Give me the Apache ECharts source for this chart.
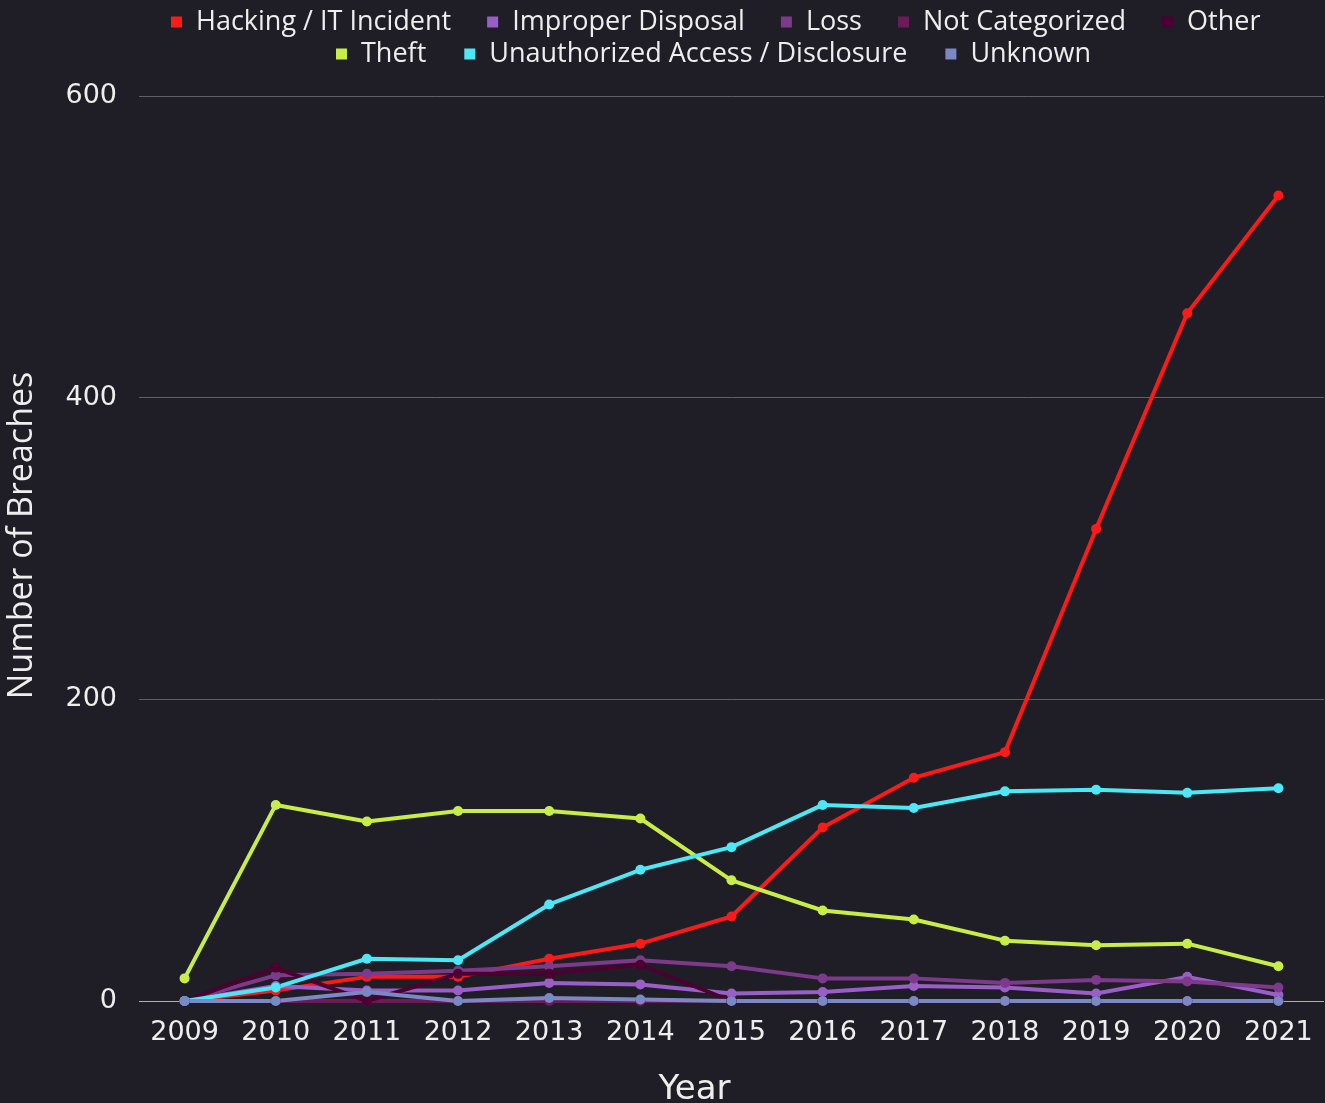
<!DOCTYPE html>
<html><head><meta charset="utf-8">
<script src="https://cdn.jsdelivr.net/npm/echarts@6/dist/echarts.min.js"></script>
<style>html,body{margin:0;padding:0;background:#1f1e26;}#c{width:1325px;height:1103px;}</style>
</head><body><div id="c"></div>
<script>
const years = ['2009','2010','2011','2012','2013','2014','2015','2016','2017','2018','2019','2020','2021'];
const hacking      = [0, 7, 16, 16, 28, 38, 56, 115, 148, 165, 313, 456, 534];
const improper     = [0, 10, 7, 7, 12, 11, 5, 6, 10, 9, 5, 16, 4];
const loss         = [0, 17, 18, 20, 23, 27, 23, 15, 15, 12, 14, 13, 9];
const notCat       = [0, 0, 0, 0, 0, 0, 0, 0, 0, 0, 0, 0, 0];
const other        = [0, 22, 0, 18, 18, 24, 0, 0, 0, 0, 0, 0, 0];
const theft        = [15, 130, 119, 126, 126, 121, 80, 60, 54, 40, 37, 38, 23];
const unauthorized = [0, 9, 28, 27, 64, 87, 102, 130, 128, 139, 140, 138, 141];
const unknown      = [0, 0, 6, 0, 2, 1, 0, 0, 0, 0, 0, 0, 0];
const yTicks = [0, 200, 400, 600];

const seriesDefs = [
  ['Hacking / IT Incident', hacking, '#ff1a1a'],
  ['Improper Disposal', improper, '#9a5fc6'],
  ['Loss', loss, '#7d3a8a'],
  ['Not Categorized', notCat, '#6b1a5a'],
  ['Other', other, '#4a0030'],
  ['Theft', theft, '#c8ec48'],
  ['Unauthorized Access / Disclosure', unauthorized, '#4ce8f6'],
  ['Unknown', unknown, '#7a88c4']
];
const lfont = 'Open Sans';
const tfont = 'DejaVu Sans';
const legendBase = {
  orient: 'horizontal', padding: 0,
  icon: 'rect', itemWidth: 11, itemHeight: 11,
  textStyle: {color: '#eeeeee', fontSize: 27, fontFamily: lfont, lineHeight: 28, padding: [0, 0, 0, 9]}
};
const names = seriesDefs.map(s => s[0]);
const chart = echarts.init(document.getElementById('c'));
chart.setOption({
  backgroundColor: '#1f1e26',
  animation: false,
  legend: [
    Object.assign({}, legendBase, {left: 171, top: 8, itemGap: 36, data: names.slice(0, 5)}),
    Object.assign({}, legendBase, {left: 336, top: 40, itemGap: 38, data: names.slice(5)})
  ],
  grid: {left: 139, right: 1, top: 96, bottom: 102, outerBoundsMode: 'none', containLabel: false},
  xAxis: {
    type: 'category', data: years, boundaryGap: true,
    name: 'Year', nameLocation: 'middle', nameGap: 72,
    nameTextStyle: {color: '#eeeeee', fontSize: 34, fontFamily: tfont, padding: [0, 74, 0, 0]},
    axisLine: {show: false}, axisTick: {show: false},
    axisLabel: {color: '#eeeeee', fontSize: 27, fontFamily: tfont, margin: 18}
  },
  yAxis: {
    type: 'value', min: yTicks[0], max: yTicks[yTicks.length-1], interval: 200,
    name: 'Number of Breaches', nameLocation: 'middle', nameGap: 100,
    nameTextStyle: {color: '#eeeeee', fontSize: 34, fontFamily: lfont, padding: [0, 0, 0, 26]},
    axisLine: {show: false}, axisTick: {show: false},
    axisLabel: {color: '#eeeeee', fontSize: 27, fontFamily: tfont, margin: 22},
    splitLine: {lineStyle: {color: ['#b0b0b0', '#606060', '#606060', '#606060'], width: 1}}
  },
  series: seriesDefs.map(s => ({
    name: s[0], type: 'line', data: s[1], color: s[2],
    symbol: 'circle', symbolSize: 10,
    lineStyle: {width: 4, color: s[2]},
    itemStyle: {color: s[2]}
  }))
});
</script></body></html>
